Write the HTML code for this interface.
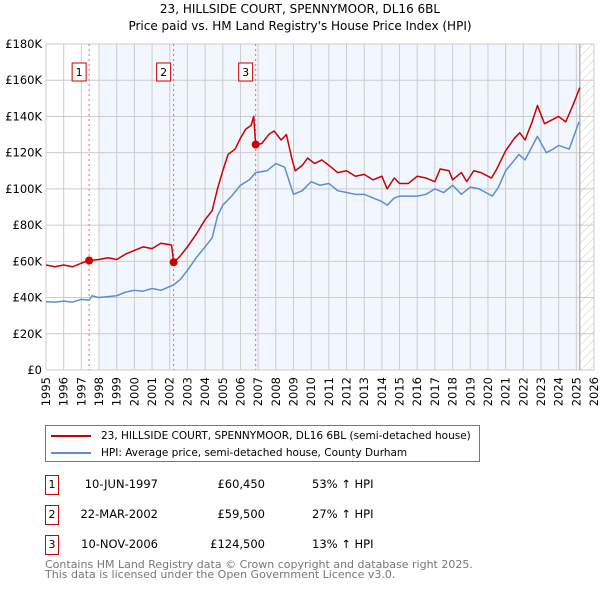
<!DOCTYPE html>
<html><head><meta charset="utf-8"><style>
body{margin:0;background:#fff;font-family:"DejaVu Sans","Liberation Sans",sans-serif;}
.t{position:absolute;font-size:11.5px;color:#000;white-space:nowrap}
</style></head><body>
<div style="position:relative;width:600px;height:590px;overflow:hidden">
<svg id="c" width="600" height="415" style="position:absolute;left:0;top:0"></svg>
<div style="position:absolute;left:45px;top:425px;width:433px;height:35px;border:1px solid #777;font-size:10.5px;white-space:nowrap">
 <div style="position:absolute;left:5px;top:4px"><span style="display:inline-block;width:40px;height:2px;background:#cc0000;vertical-align:middle;margin-right:10px"></span>23, HILLSIDE COURT, SPENNYMOOR, DL16 6BL (semi-detached house)</div>
 <div style="position:absolute;left:5px;top:21px"><span style="display:inline-block;width:40px;height:2px;background:#5b8fd0;vertical-align:middle;margin-right:10px"></span>HPI: Average price, semi-detached house, County Durham</div>
</div>
<div id="tbl"></div>
<div class="t" style="left:45px;top:560px;color:#777;font-size:11px;line-height:10px">Contains HM Land Registry data © Crown copyright and database right 2025.<br>This data is licensed under the Open Government Licence v3.0.</div>
</div>
<script>
const yearTicks=[1995,1996,1997,1998,1999,2000,2001,2002,2003,2004,2005,2006,2007,2008,2009,2010,2011,2012,2013,2014,2015,2016,2017,2018,2019,2020,2021,2022,2023,2024,2025,2026];
const yTicks=[0,20000,40000,60000,80000,100000,120000,140000,160000,180000];
const yTickLabels=["£0","£20K","£40K","£60K","£80K","£100K","£120K","£140K","£160K","£180K"];
const redT=[1995,1995.5,1996,1996.5,1997,1997.44,1998,1998.5,1999,1999.5,2000,2000.5,2001,2001.5,2002.1,2002.22,2002.6,2003,2003.5,2004,2004.4,2004.7,2005,2005.3,2005.7,2006,2006.3,2006.6,2006.75,2006.86,2007.2,2007.6,2007.9,2008.3,2008.6,2008.9,2009.1,2009.5,2009.8,2010.2,2010.6,2011,2011.5,2012,2012.5,2013,2013.5,2014,2014.3,2014.7,2015,2015.5,2016,2016.5,2017,2017.3,2017.8,2018,2018.5,2018.8,2019.2,2019.6,2020.2,2020.5,2021,2021.5,2021.8,2022.1,2022.5,2022.8,2023.2,2023.6,2024,2024.4,2024.8,2025.2];
const redV=[58,57,58,57,59,60.45,61,62,61,64,66,68,67,70,69,59.5,63,68,75,83,88,100,110,119,122,128,133,135,140,124.5,125,130,132,127,130,117,110,113,117,114,116,113,109,110,107,108,105,107,100,106,103,103,107,106,104,111,110,105,109,104,110,109,106,111,121,128,131,127,137,146,136,138,140,137,146,156];
const blueT=[1995,1995.5,1996,1996.5,1997,1997.44,1997.6,1998,1998.5,1999,1999.5,2000,2000.5,2001,2001.5,2002.22,2002.6,2003,2003.5,2004,2004.4,2004.7,2005,2005.5,2006,2006.5,2006.86,2007.5,2008,2008.5,2009,2009.5,2010,2010.5,2011,2011.5,2012,2012.5,2013,2013.5,2014,2014.3,2014.7,2015,2015.5,2016,2016.5,2017,2017.5,2018,2018.5,2019,2019.5,2020.25,2020.6,2021,2021.75,2022.1,2022.8,2023.3,2023.7,2024,2024.6,2025.15];
const blueV=[37.7,37.5,38,37.5,39,38.5,41,40,40.5,41,43,44,43.5,45,44,47,50,55,62,68,73,85,91,96,102,105,109,110,114,112,97,99,104,102,103,99,98,97,97,95,93,91,95,96,96,96,97,100,98,102,97,101,100,96,101,110,119,116,129,120,122,124,122,137];
const sales=[{t:1997.44,v:60450,n:"1",d:"10-JUN-1997",p:"£60,450",h:"53% ↑ HPI"},{t:2002.22,v:59500,n:"2",d:"22-MAR-2002",p:"£59,500",h:"27% ↑ HPI"},{t:2006.86,v:124500,n:"3",d:"10-NOV-2006",p:"£124,500",h:"13% ↑ HPI"}];
const L=46,R=594,T=44,B=370,x=t=>L+(t-1995)*(R-L)/31,y=v=>B-v*(B-T)/180000;
const NS="http://www.w3.org/2000/svg",svg=document.getElementById('c');
function mk(tag,a,p){const e=document.createElementNS(NS,tag);for(const k in a)e.setAttribute(k,a[k]);(p||svg).appendChild(e);return e;}
let ti=mk('text',{x:300,y:13,'text-anchor':'middle','font-size':12,'font-family':'DejaVu Sans,sans-serif'});ti.textContent="23, HILLSIDE COURT, SPENNYMOOR, DL16 6BL";

let st=mk('text',{x:300,y:30,'text-anchor':'middle','font-size':12,'font-family':'DejaVu Sans,sans-serif'});st.textContent="Price paid vs. HM Land Registry's House Price Index (HPI)";

const d=mk('defs',{});const pt=mk('pattern',{id:'h',width:6,height:6,patternUnits:'userSpaceOnUse',patternTransform:'rotate(45)'},d);mk('line',{x1:0,y1:0,x2:0,y2:6,stroke:'#ccc','stroke-width':1},pt);
let sh=mk('rect',{x:x(1998),y:T,width:x(2025.2)-x(1998),height:B-T,fill:'#f2f6fe'});

let ht=mk('rect',{x:x(2025.2),y:T,width:R-x(2025.2),height:B-T,fill:'url(#h)'});

yearTicks.forEach(t=>{mk('line',{x1:x(t),x2:x(t),y1:T,y2:B,stroke:'#ccc'});let e=mk('text',{x:0,y:0,'text-anchor':'end','font-size':11.5,'font-family':'DejaVu Sans,sans-serif',transform:`translate(${x(t)+4},${B+7}) rotate(-90)`});e.textContent=t;});
yTicks.forEach((v,i)=>{mk('line',{x1:L,x2:R,y1:y(v),y2:y(v),stroke:'#ccc'});let e=mk('text',{x:L-4,y:y(v)+4,'text-anchor':'end','font-size':11.5,'font-family':'DejaVu Sans,sans-serif'});e.textContent=yTickLabels[i];});
mk('line',{x1:x(2025.2),x2:x(2025.2),y1:T,y2:B,stroke:'#999'});
sales.forEach(s=>{mk('line',{x1:x(s.t),x2:x(s.t),y1:T,y2:B,stroke:'#e66','stroke-dasharray':'2,3'});});
function line(ts,vs,c,n){let p=mk('polyline',{points:ts.map((t,i)=>x(t)+','+y(vs[i]*1000)).join(' '),fill:'none',stroke:c,'stroke-width':1.5,'stroke-linejoin':'round'});}
line(blueT,blueV,'#5b8fd0','hpi-line');line(redT,redV,'#cc0000','price-line');
sales.forEach(s=>{let c=mk('circle',{cx:x(s.t),cy:y(s.v),r:4,fill:'#cc0000'});
let g=mk('g',{});
mk('rect',{x:x(s.t)-17,y:63,width:14,height:18,fill:'#fff',stroke:'#cc0000'},g);let e=mk('text',{x:x(s.t)-10,y:76,'text-anchor':'middle','font-size':11,'font-family':'DejaVu Sans,sans-serif'},g);e.textContent=s.n;});
const tb=document.getElementById('tbl');
sales.forEach((s,i)=>{const top=475+i*30;
const r=document.createElement('div');
r.innerHTML=`<div style="position:absolute;left:45px;top:${top}px;width:12px;height:18px;border:1px solid #cc0000;font-size:11px;text-align:center;line-height:18px">${s.n}</div><div class="t" style="left:0;width:158px;text-align:right;top:${top+2}px">${s.d}</div><div class="t" style="left:0;width:265px;text-align:right;top:${top+2}px">${s.p}</div><div class="t" style="left:312px;top:${top+2}px">${s.h}</div>`;
tb.appendChild(r);});
</script>
</body></html>
